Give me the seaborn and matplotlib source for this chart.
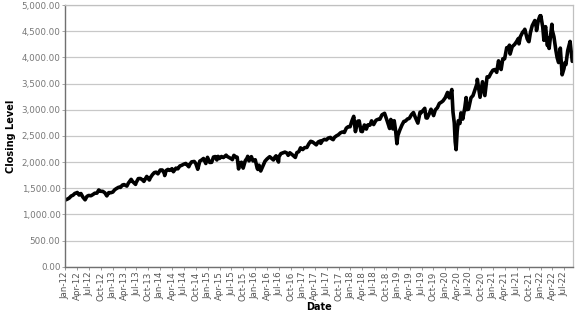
import matplotlib
matplotlib.use("Agg")
import matplotlib.pyplot as plt
import matplotlib.dates as mdates
from matplotlib.ticker import FuncFormatter, MultipleLocator
import seaborn as sns
import pandas as pd

# Approximate closing levels (date, level)
dates = [
    "2012-01-03", "2012-01-15", "2012-01-31", "2012-02-15", "2012-02-29", "2012-03-15", "2012-03-30",
    "2012-04-02", "2012-04-16", "2012-04-30", "2012-05-15", "2012-06-01", "2012-06-15", "2012-06-29",
    "2012-07-16", "2012-07-31", "2012-08-15", "2012-08-31", "2012-09-14", "2012-09-28", "2012-10-15",
    "2012-10-31", "2012-11-15", "2012-11-30", "2012-12-14", "2012-12-31",
    "2013-01-15", "2013-01-31", "2013-02-15", "2013-02-28", "2013-03-15", "2013-03-28", "2013-04-18",
    "2013-04-30", "2013-05-21", "2013-05-31", "2013-06-24", "2013-06-28", "2013-07-15", "2013-07-31",
    "2013-08-15", "2013-08-27", "2013-09-18", "2013-09-30", "2013-10-08", "2013-10-15", "2013-10-31",
    "2013-11-15", "2013-11-29", "2013-12-13", "2013-12-31",
    "2014-01-15", "2014-01-31", "2014-02-03", "2014-02-14", "2014-02-28", "2014-03-14", "2014-03-31",
    "2014-04-11", "2014-04-30", "2014-05-15", "2014-05-30", "2014-06-13", "2014-06-30", "2014-07-15",
    "2014-07-31", "2014-08-07", "2014-08-15", "2014-08-29", "2014-09-18", "2014-09-30", "2014-10-15",
    "2014-10-31", "2014-11-14", "2014-11-28", "2014-12-16", "2014-12-29",
    "2015-01-15", "2015-01-30", "2015-02-13", "2015-02-27", "2015-03-11", "2015-03-20", "2015-03-31",
    "2015-04-15", "2015-04-30", "2015-05-21", "2015-05-29", "2015-06-15", "2015-06-30", "2015-07-08",
    "2015-07-20", "2015-07-31", "2015-08-14", "2015-08-25", "2015-08-31", "2015-09-16", "2015-09-29",
    "2015-10-15", "2015-10-30", "2015-11-03", "2015-11-13", "2015-12-01", "2015-12-14", "2015-12-31",
    "2016-01-15", "2016-01-20", "2016-01-29", "2016-02-11", "2016-02-29", "2016-03-15", "2016-03-31",
    "2016-04-20", "2016-05-19", "2016-05-31", "2016-06-08", "2016-06-27", "2016-06-30", "2016-07-15",
    "2016-07-29", "2016-08-15", "2016-08-31", "2016-09-09", "2016-09-22", "2016-10-14", "2016-11-03",
    "2016-11-15", "2016-11-30", "2016-12-13", "2016-12-30",
    "2017-01-13", "2017-01-31", "2017-02-15", "2017-03-01", "2017-03-15", "2017-04-13", "2017-04-28",
    "2017-05-15", "2017-05-17", "2017-05-31", "2017-06-15", "2017-06-30", "2017-07-14", "2017-07-31",
    "2017-08-11", "2017-08-21", "2017-08-31", "2017-09-15", "2017-09-29", "2017-10-16", "2017-10-31",
    "2017-11-15", "2017-11-30", "2017-12-15", "2017-12-29",
    "2018-01-12", "2018-01-26", "2018-02-08", "2018-02-26", "2018-03-09", "2018-03-23", "2018-04-02",
    "2018-04-18", "2018-05-03", "2018-05-15", "2018-05-31", "2018-06-12", "2018-06-28", "2018-07-16",
    "2018-07-31", "2018-08-15", "2018-08-31", "2018-09-20", "2018-10-10", "2018-10-29", "2018-11-07",
    "2018-11-23", "2018-12-03", "2018-12-14", "2018-12-24", "2018-12-31",
    "2019-01-15", "2019-01-31", "2019-02-15", "2019-02-28", "2019-03-15", "2019-03-29", "2019-04-15",
    "2019-04-30", "2019-05-15", "2019-06-03", "2019-06-20", "2019-06-28", "2019-07-26", "2019-08-05",
    "2019-08-14", "2019-08-30", "2019-09-12", "2019-10-02", "2019-10-15", "2019-10-31", "2019-11-15",
    "2019-11-29", "2019-12-13", "2019-12-31",
    "2020-01-17", "2020-01-31", "2020-02-19", "2020-02-28", "2020-03-09", "2020-03-16", "2020-03-23",
    "2020-03-31", "2020-04-09", "2020-04-21", "2020-04-29", "2020-05-13", "2020-05-29", "2020-06-08",
    "2020-06-11", "2020-06-26", "2020-07-15", "2020-07-31", "2020-08-14", "2020-08-31", "2020-09-02",
    "2020-09-23", "2020-10-12", "2020-10-30", "2020-11-16", "2020-11-30", "2020-12-15", "2020-12-31",
    "2021-01-15", "2021-01-29", "2021-02-12", "2021-02-26", "2021-03-04", "2021-03-17", "2021-03-31",
    "2021-04-16", "2021-04-30", "2021-05-07", "2021-05-12", "2021-05-28", "2021-06-15", "2021-06-30",
    "2021-07-15", "2021-07-19", "2021-07-30", "2021-08-16", "2021-08-31", "2021-09-02", "2021-09-20",
    "2021-09-30", "2021-10-04", "2021-10-15", "2021-10-29", "2021-11-18", "2021-11-30", "2021-12-01",
    "2021-12-15", "2021-12-27", "2021-12-31",
    "2022-01-03", "2022-01-18", "2022-01-27", "2022-01-31", "2022-02-09", "2022-02-23", "2022-02-28",
    "2022-03-08", "2022-03-29", "2022-03-31", "2022-04-14", "2022-04-29", "2022-05-09", "2022-05-20",
    "2022-05-31", "2022-06-02", "2022-06-16", "2022-06-30", "2022-07-08", "2022-07-15", "2022-07-29",
    "2022-08-16", "2022-08-31", "2022-09-02",
]
levels = [
    1277, 1289, 1312, 1351, 1366, 1402, 1408,
    1419, 1370, 1398, 1330, 1278, 1343, 1362,
    1356, 1379, 1405, 1406, 1466, 1441, 1440,
    1412, 1353, 1416, 1413, 1426,
    1472, 1498, 1519, 1515, 1561, 1569, 1541,
    1598, 1669, 1631, 1573, 1606, 1683, 1686,
    1661, 1630, 1725, 1682, 1656, 1698, 1757,
    1798, 1806, 1775, 1848,
    1848, 1783, 1742, 1838, 1859, 1841, 1872,
    1815, 1884, 1870, 1924, 1937, 1960, 1973,
    1931, 1910, 1955, 2003, 2011, 1972, 1862,
    2018, 2039, 2068, 1972, 2090,
    1992, 1995, 2096, 2105, 2040, 2108, 2068,
    2106, 2086, 2131, 2107, 2084, 2063, 2046,
    2128, 2104, 2092, 1868, 1972, 1996, 1884,
    2023, 2079, 2109, 2023, 2103, 2021, 2044,
    1880, 1859, 1940, 1829, 1932, 2016, 2060,
    2102, 2040, 2097, 2119, 2000, 2099, 2161,
    2174, 2190, 2171, 2128, 2177, 2133, 2088,
    2180, 2199, 2271, 2239,
    2275, 2279, 2349, 2396, 2385, 2329, 2384,
    2403, 2357, 2412, 2433, 2423, 2459, 2470,
    2441, 2428, 2472, 2500, 2519, 2558, 2575,
    2565, 2648, 2676, 2674,
    2786, 2873, 2581, 2780, 2786, 2588, 2582,
    2708, 2630, 2711, 2705, 2787, 2716, 2798,
    2816, 2818, 2902, 2931, 2786, 2641, 2814,
    2633, 2790, 2600, 2351, 2507,
    2610, 2704, 2775, 2784, 2822, 2834, 2906,
    2946, 2850, 2744, 2954, 2942, 3026, 2844,
    2840, 2926, 3009, 2888, 2996, 3038, 3120,
    3141, 3168, 3231,
    3330, 3226, 3386, 2954, 2747, 2386, 2237,
    2585, 2790, 2737, 2940, 2820, 3044, 3232,
    3002, 3009, 3227, 3271, 3373, 3500, 3580,
    3237, 3535, 3270, 3627, 3622, 3695, 3756,
    3768, 3714, 3934, 3811, 3768, 3974, 3973,
    4185, 4181, 4233, 4063, 4204, 4246, 4298,
    4361, 4258, 4395, 4479, 4523, 4537, 4358,
    4308, 4300, 4471, 4605, 4704, 4567, 4513,
    4709, 4791, 4766,
    4797, 4577, 4326, 4516, 4587, 4225, 4374,
    4171, 4632, 4530, 4392, 4132, 3991, 3901,
    4132, 4177, 3667, 3785, 3899, 3863, 4130,
    4305, 3955, 3924,
]

df = pd.DataFrame({"Date": pd.to_datetime(dates), "Closing Level": levels})

sns.set_theme(style="white")
plt.rcParams["font.family"] = ["DejaVu Sans"]

fig = plt.figure(figsize=(5.77, 3.15), dpi=100)
ax = fig.add_axes([0.1132, 0.1533, 0.8793, 0.8307])

sns.lineplot(data=df, x="Date", y="Closing Level", ax=ax, color="black",
             linewidth=2.6, solid_joinstyle="round", solid_capstyle="round")

ax.set_ylim(0, 5000)
ax.set_xlim(pd.Timestamp("2012-01-01"), pd.Timestamp("2022-09-05"))
ax.yaxis.set_major_locator(MultipleLocator(500))
ax.yaxis.set_major_formatter(FuncFormatter(lambda v, p: f"{v:,.2f}"))
ax.xaxis.set_major_locator(mdates.MonthLocator(bymonth=[1, 4, 7, 10]))
ax.xaxis.set_major_formatter(mdates.DateFormatter("%b-%y"))

ax.grid(axis="y", color="#c8c8c8", linewidth=0.9)
ax.grid(axis="x", visible=False)
ax.set_axisbelow(True)

for s in ["top", "right"]:
    ax.spines[s].set_color("#c0c0c0")
    ax.spines[s].set_linewidth(0.9)
for s in ["left", "bottom"]:
    ax.spines[s].set_color("#707070")
    ax.spines[s].set_linewidth(1.0)

ax.tick_params(axis="x", which="major", labelsize=6.3, labelcolor="#555555", rotation=90,
               bottom=True, length=2.5, width=0.6, color="#888888", pad=1)
ax.tick_params(axis="y", which="major", labelsize=6.3, labelcolor="#777777",
               left=True, length=2.5, width=0.6, color="#999999", pad=1)

ax.set_xlabel("Date", fontsize=7, fontweight="bold", color="black", labelpad=1)
ax.set_ylabel("Closing Level", fontsize=7, fontweight="bold", color="black", labelpad=4)

fig.savefig("out.png", dpi=100)
